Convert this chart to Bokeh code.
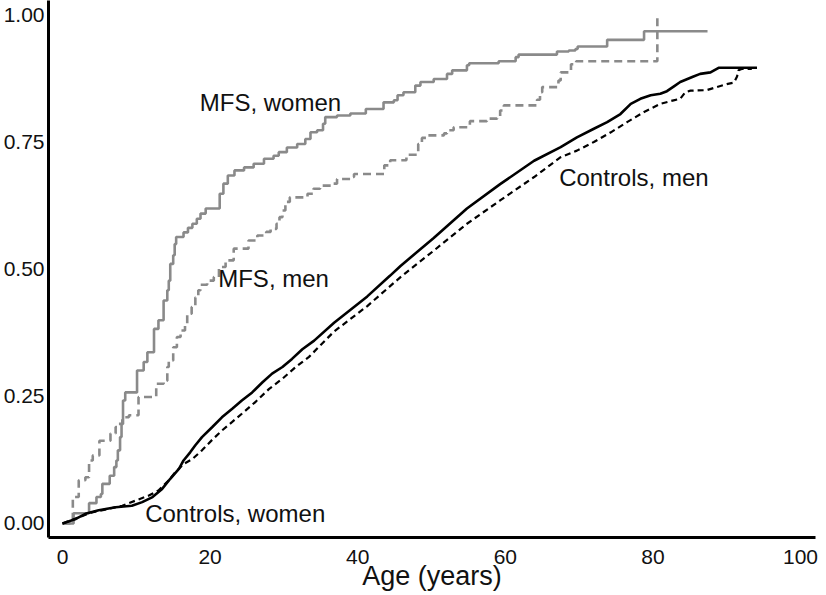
from bokeh.plotting import figure
from bokeh.models import Range1d, Label, FixedTicker
from bokeh.embed import file_html
from bokeh.resources import INLINE

# ---- data ----
mfs_women_x = [0, 1.5, 3.6, 4.6, 5.2, 5.4, 6.4, 7.0, 7.3, 7.5, 7.8, 8.0, 8.2, 8.5, 10.1, 11.0, 11.5,
               12.4, 13.0, 13.7, 14.2, 14.4, 14.6, 15.0, 15.2, 15.4, 16.4, 17.0, 17.6, 18.2, 18.7,
               19.4, 21.3, 21.8, 22.4, 23.3, 24.6, 25.9, 27.3, 28.6, 29.3, 30.4, 31.8, 32.9, 33.6,
               34.5, 35.3, 35.6, 37.2, 39.0, 41.1, 43.5, 44.9, 45.4, 46.2, 47.8, 48.5, 50.3, 52.1,
               52.8, 54.8, 55.1, 59.1, 61.4, 61.8, 67.0, 68.6, 69.5, 69.8, 73.8, 78.8, 87.4]
mfs_women_y = [0, 0.02, 0.04, 0.052, 0.058, 0.078, 0.094, 0.111, 0.124, 0.144, 0.17, 0.196, 0.242,
               0.258, 0.301, 0.318, 0.337, 0.383, 0.40, 0.439, 0.459, 0.478, 0.511, 0.528, 0.55,
               0.564, 0.573, 0.582, 0.59, 0.60, 0.61, 0.62, 0.649, 0.669, 0.685, 0.695, 0.701,
               0.708, 0.718, 0.724, 0.731, 0.74, 0.747, 0.757, 0.77, 0.774, 0.787, 0.80, 0.803,
               0.807, 0.816, 0.829, 0.833, 0.843, 0.849, 0.862, 0.869, 0.875, 0.885, 0.892, 0.902,
               0.906, 0.91, 0.918, 0.923, 0.929, 0.931, 0.934, 0.939, 0.952, 0.969, 0.969]

mfs_men_x = [0, 1.4, 2.2, 3.1, 3.6, 4.1, 5.0, 6.5, 7.2, 7.6, 8.1, 9.0, 10.3, 12.7, 13.7, 14.2, 14.4,
             15.0, 15.5, 16.0, 16.6, 16.9, 17.5, 18.0, 18.4, 18.7, 19.6, 20.5, 21.2, 22.1, 23.2,
             25.2, 26.4, 27.6, 28.2, 29.0, 29.4, 29.8, 30.2, 30.8, 33.2, 34.0, 34.9, 36.5, 37.2,
             39.0, 39.5, 43.6, 44.4, 46.6, 48.2, 48.7, 49.4, 51.7, 52.1, 53.0, 55.2, 57.5, 58.9,
             59.3, 59.8, 64.3, 64.7, 65.0, 67.2, 67.5, 68.9, 69.6, 80.6]
mfs_men_y = [0, 0.052, 0.085, 0.091, 0.124, 0.134, 0.163, 0.177, 0.19, 0.196, 0.209, 0.213, 0.249,
             0.275, 0.281, 0.308, 0.321, 0.347, 0.367, 0.38, 0.393, 0.413, 0.426, 0.445, 0.459,
             0.47, 0.478, 0.485, 0.505, 0.518, 0.541, 0.557, 0.567, 0.574, 0.58, 0.59, 0.603,
             0.616, 0.633, 0.642, 0.649, 0.659, 0.665, 0.669, 0.678, 0.682, 0.688, 0.705, 0.715,
             0.726, 0.747, 0.759, 0.764, 0.768, 0.774, 0.78, 0.792, 0.797, 0.799, 0.813, 0.823,
             0.834, 0.849, 0.859, 0.872, 0.888, 0.904, 0.91, 1.0]

ctrl_women_x = [0, 0.6, 1.8, 3.1, 4.9, 7.2, 9.4, 10.8, 12.2, 13.5, 14.6, 15.8, 16.4, 17.3, 18.0,
                18.9, 20.3, 21.6, 23.0, 24.3, 25.7, 27.1, 28.4, 29.8, 31.1, 32.5, 34.1, 36.8,
                41.3, 44.4, 45.8, 50.3, 54.8, 59.3, 63.9, 67.5, 69.7, 72.0, 73.8, 75.6, 77.0,
                78.3, 79.7, 81.0, 81.9, 82.8, 83.7, 85.5, 86.4, 87.8, 88.9, 94.1]
ctrl_women_y = [0, 0.003, 0.009, 0.019, 0.026, 0.032, 0.035, 0.042, 0.052, 0.068, 0.088, 0.108,
                0.124, 0.14, 0.154, 0.17, 0.19, 0.209, 0.226, 0.242, 0.258, 0.278, 0.295, 0.308,
                0.324, 0.343, 0.36, 0.395, 0.447, 0.488, 0.507, 0.562, 0.62, 0.668, 0.714, 0.741,
                0.76, 0.777, 0.79, 0.806, 0.826, 0.836, 0.843, 0.846, 0.851, 0.86, 0.869, 0.88,
                0.885, 0.888, 0.897, 0.897]

ctrl_men_x = [0, 2.2, 4.0, 6.3, 8.1, 9.9, 11.7, 13.0, 14.4, 15.3, 16.4, 17.6, 18.9, 20.3, 21.6,
              23.0, 24.3, 26.2, 28.0, 29.8, 31.6, 33.4, 36.8, 41.3, 45.8, 50.3, 54.8, 59.3, 63.9,
              67.5, 69.7, 72.0, 74.3, 76.5, 78.8, 81.0, 82.8, 83.7, 84.4, 85.1, 87.3, 88.2, 90.0,
              91.0, 91.4, 91.6, 92.1, 93.4]
ctrl_men_y = [0, 0.012, 0.022, 0.029, 0.035, 0.045, 0.055, 0.065, 0.085, 0.101, 0.117, 0.127,
              0.144, 0.165, 0.183, 0.2, 0.216, 0.24, 0.265, 0.285, 0.308, 0.328, 0.378, 0.428,
              0.485, 0.537, 0.59, 0.636, 0.682, 0.721, 0.734, 0.751, 0.77, 0.79, 0.81, 0.826,
              0.833, 0.836, 0.849, 0.852, 0.853, 0.857, 0.865, 0.868, 0.88, 0.892, 0.895, 0.895]

x_ticks = [0, 20, 40, 60, 80, 100]
y_ticks = [0, 0.25, 0.5, 0.75, 1.0]
y_tick_labels = ["0.00", "0.25", "0.50", "0.75", "1.00"]
x_axis_title = "Age (years)"

labels = ["MFS, women", "MFS, men", "Controls, women", "Controls, men"]
label_x = [18.6, 21.1, 11.2, 67.3]
label_y = [0.829, 0.482, 0.019, 0.682]

FONT = "Liberation Sans"
GRAY = "#8a8a8a"
TXT = "#111111"

p = figure(frame_width=767, frame_height=537,
           x_range=Range1d(-1.897, 102.03), y_range=Range1d(-0.0276, 1.0295),
           output_backend="svg", toolbar_location=None,
           min_border_left=48, min_border_right=3, min_border_top=0, min_border_bottom=50)
p.grid.visible = False
p.outline_line_color = None
p.background_fill_color = "white"
p.border_fill_color = "white"

p.step(mfs_women_x, mfs_women_y, mode="after", line_color=GRAY, line_width=2.6)
p.step(mfs_men_x, mfs_men_y, mode="after", line_color=GRAY, line_width=2.6, line_dash="8 5")
p.line(ctrl_women_x, ctrl_women_y, line_color="black", line_width=2.6)
p.line(ctrl_men_x, ctrl_men_y, line_color="black", line_width=2.2, line_dash="6 4")

for t, lx, ly in zip(labels, label_x, label_y):
    p.add_layout(Label(x=lx, y=ly, text=t, text_font=FONT, text_font_size="24px",
                       text_baseline="middle", text_align="left", text_color=TXT))

for ax in (p.xaxis[0], p.yaxis[0]):
    ax.axis_line_width = 3
    ax.axis_line_color = "black"
    ax.major_tick_line_color = None
    ax.minor_tick_line_color = None
    ax.major_tick_out = 0
    ax.major_tick_in = 0
    ax.major_label_text_font = FONT
    ax.major_label_text_font_size = "21px"
    ax.major_label_text_color = TXT

p.xaxis.ticker = FixedTicker(ticks=x_ticks)
p.yaxis.ticker = FixedTicker(ticks=y_ticks)
p.yaxis.major_label_overrides = {t: s for t, s in zip(y_ticks, y_tick_labels)}
p.yaxis.major_label_standoff = 4
p.xaxis.major_label_standoff = 12
p.xaxis.axis_label = x_axis_title
p.xaxis.axis_label_text_font = FONT
p.xaxis.axis_label_text_font_size = "27px"
p.xaxis.axis_label_text_font_style = "normal"
p.xaxis.axis_label_text_color = TXT
p.xaxis.axis_label_standoff = -6

open("out.html", "w").write(file_html(p, INLINE))
